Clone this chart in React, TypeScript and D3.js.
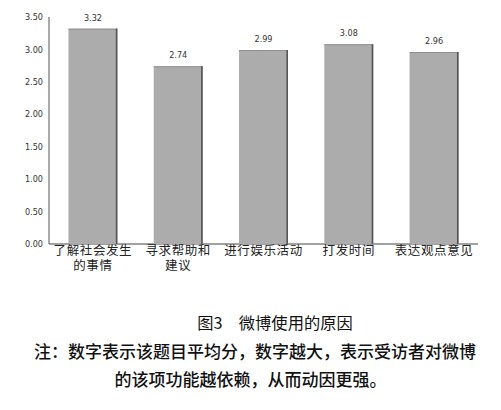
import React from "react";
import * as d3 from "d3";

const categories: string[][] = [
  ["了解社会发生", "的事情"],
  ["寻求帮助和", "建议"],
  ["进行娱乐活动"],
  ["打发时间"],
  ["表达观点意见"],
];
const values: number[] = [3.32, 2.74, 2.99, 3.08, 2.96];
const yTicks: number[] = [0, 0.5, 1, 1.5, 2, 2.5, 3, 3.5];
const title = "图3\u3000微博使用的原因";
const noteLines: string[] = [
  "注：数字表示该题目平均分，数字越大，表示受访者对微博",
  "的该项功能越依赖，从而动因更强。",
];

const W = 501;
const H = 410;
const left = 49;
const right = 478;
const top = 17;
const bottom = 244;

const numFont = "'Liberation Sans Narrow', 'DejaVu Sans Condensed', 'Liberation Sans', sans-serif";
const cjkFont = "'Noto Sans CJK SC', sans-serif";

export default function App() {
  const x = d3
    .scaleBand<number>()
    .domain(d3.range(values.length))
    .range([left, right])
    .paddingInner(0.426)
    .paddingOuter(0.228);
  const y = d3.scaleLinear().domain([0, 3.5]).range([bottom, top]);
  const fmt = d3.format(".2f");
  const bw = x.bandwidth();

  return (
    <svg
      width={W}
      height={H}
      viewBox={`0 0 ${W} ${H}`}
      style={{ position: "absolute", left: 0, top: 0, background: "#fff" }}
    >
      {/* axes */}
      <line x1={left} x2={left} y1={top} y2={bottom} stroke="#555" strokeWidth={1} />
      <line x1={left} x2={right} y1={bottom} y2={bottom} stroke="#444" strokeWidth={1.2} />
      {yTicks.map((t) => (
        <text
          key={t}
          x={left - 6}
          y={y(t)}
          dy="0.35em"
          textAnchor="end"
          fontFamily={numFont}
          fontSize={9}
          fill="#333"
        >
          {fmt(t)}
        </text>
      ))}
      {/* bars */}
      {values.map((v, i) => {
        const bx = x(i)!;
        const by = y(v);
        const bh = y(0) - by;
        return (
          <g key={i}>
            <rect x={bx} y={by} width={bw} height={bh} fill="#acacac" />
            <line x1={bx} x2={bx + bw} y1={by + 0.5} y2={by + 0.5} stroke="#8f8f8f" strokeWidth={1} />
            <line x1={bx + bw - 0.8} x2={bx + bw - 0.8} y1={by} y2={bottom} stroke="#555" strokeWidth={1.6} />
            <text
              x={bx + bw / 2}
              y={by - 11}
              dy="0.35em"
              textAnchor="middle"
              fontFamily={numFont}
              fontSize={9}
              fill="#333"
            >
              {fmt(v)}
            </text>
          </g>
        );
      })}
      {/* category labels */}
      {categories.map((lines, i) => (
        <text
          key={i}
          x={x(i)! + bw / 2}
          y={255}
          textAnchor="middle"
          fontFamily={cjkFont}
          fontSize={12.5}
          letterSpacing={0.6}
          fill="#222"
        >
          {lines.map((l, j) => (
            <tspan key={j} x={x(i)! + bw / 2} dy={j === 0 ? 0 : 14.5}>
              {l}
            </tspan>
          ))}
        </text>
      ))}
      {/* caption */}
      <text x={275} y={329} textAnchor="middle" fontFamily={cjkFont} fontSize={16.3} fill="#111">
        {title}
      </text>
      {noteLines.map((l, i) => (
        <text
          key={i}
          x={i === 0 ? 255 : 250.5}
          y={358 + i * 28}
          textAnchor="middle"
          fontFamily={cjkFont}
          fontSize={17}
          fontWeight={500}
          fill="#111"
        >
          {l}
        </text>
      ))}
    </svg>
  );
}
